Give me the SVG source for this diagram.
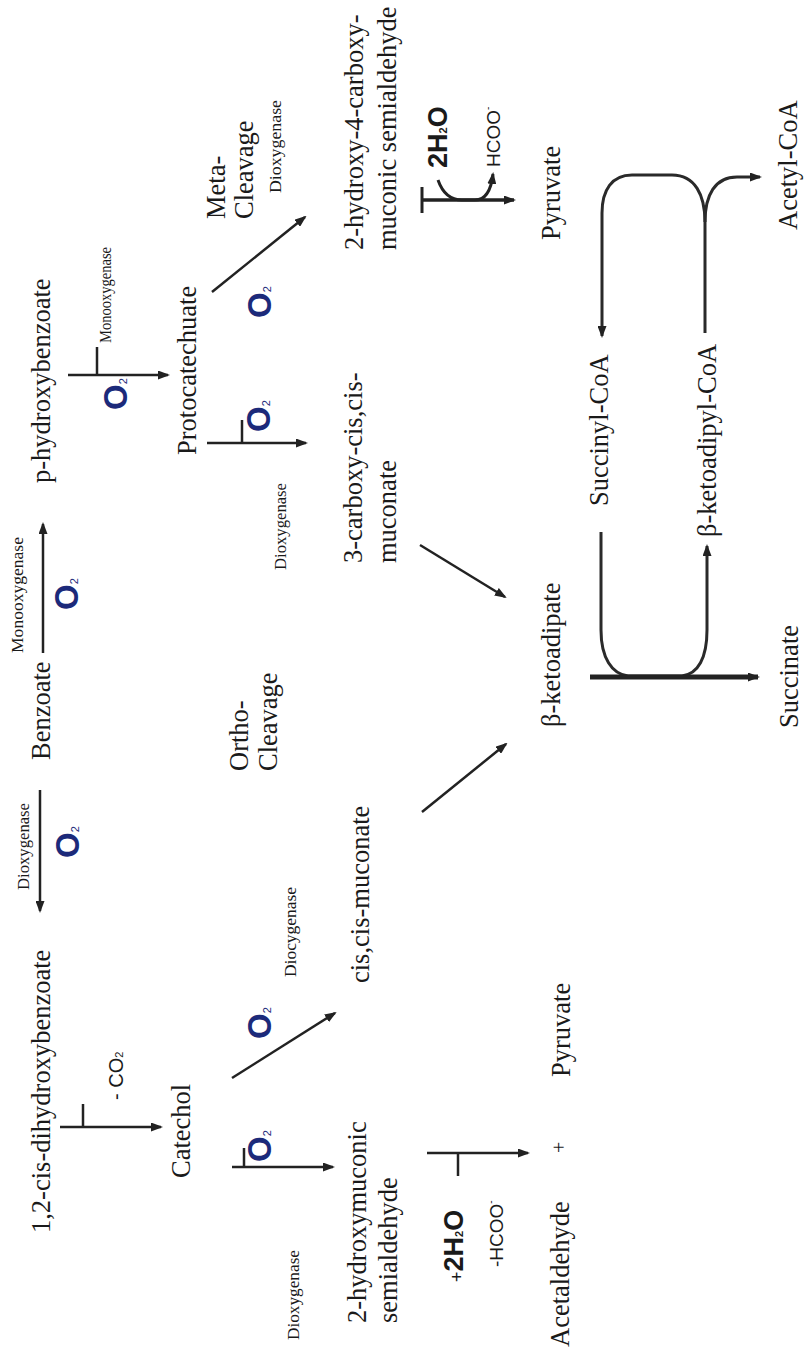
<svg xmlns="http://www.w3.org/2000/svg" width="804" height="1350" viewBox="0 0 804 1350">
<defs>
<marker id="ah" markerUnits="userSpaceOnUse" viewBox="0 0 12 9" markerWidth="12" markerHeight="9" refX="10" refY="4.5" orient="auto"><path d="M0,0 L12,4.5 L0,9 z" fill="#222"/></marker>
<style>
.t{font-family:"Liberation Serif","Times New Roman",serif;font-size:26.5px;fill:#1a1a1a}
.e{font-family:"Liberation Serif","Times New Roman",serif;font-size:17px;fill:#1a1a1a}
.o{font-family:"Liberation Sans",Arial,sans-serif;font-size:33px;font-weight:bold;fill:#1c2a7a}
.o .sb{font-size:11px;font-weight:normal}
.s{font-family:"Liberation Sans",Arial,sans-serif;font-size:19px;fill:#1a1a1a}
.b{font-family:"Liberation Sans",Arial,sans-serif;font-size:27px;font-weight:bold;fill:#1a1a1a}
.ln{stroke:#222;stroke-width:2.5;fill:none}
.ar{stroke:#222;stroke-width:2.5;fill:none;marker-end:url(#ah)}
.lp{stroke:#2a2a2a;stroke-width:3;fill:none}
</style>
</defs>
<rect width="804" height="1350" fill="#fff"/>

<g id="connectors">
  <path class="ar" d="M40 790 L40 911"/>
  <path class="ar" d="M43 653 L43 524"/>
  <path class="ar" d="M68 375 L168 375"/><path class="ln" d="M97 375 L97 347"/>
  <path class="ar" d="M60 1127 L161 1127"/><path class="ln" d="M83 1127 L83 1104"/>
  <path class="ar" d="M207 443 L306 443"/><path class="ln" d="M242 443 L242 420"/>
  <path class="ar" d="M212 292 L305 217"/>
  <path class="ar" d="M232 1078 L335 1013"/>
  <path class="ar" d="M232 1167 L333 1167"/><path class="ln" d="M244 1167 L244 1148"/>
  <path class="ar" d="M427 1153 L528 1153"/><path class="ln" d="M458 1153 L458 1176"/>
  <path class="ar" d="M422 200 L514 200" style="stroke-width:3.5"/>
  <path class="ln" d="M422 187 L422 213" style="stroke-width:3"/>
  <path class="ar" d="M438 180 Q445 200 462 200 L475 200 Q490 200 493 174" style="stroke-width:3"/>
  <path class="ar" d="M420 545 L505 597"/>
  <path class="ar" d="M422 812 L506 744"/>
  <path class="lp" d="M705 333 L705 222 C705 195 695 175 672 175 L632 175 C612 175 602 190 602 213 L602 336" style="marker-end:url(#ah)"/>
  <path class="lp" d="M705 222 C705 195 715 177 737 177 L760 177" style="marker-end:url(#ah)"/>
  <path class="lp" d="M601 532 L601 630 C601 658 612 674 628 676 L682 676 C698 674 707 658 707 630 L707 546" style="marker-end:url(#ah)"/>
  <path class="ar" d="M590 677 L758 677" style="stroke-width:5"/>
</g>

<g id="n-dihydroxybenzoate"><text class="t" transform="translate(50,1233) rotate(-90)">1,2-cis-dihydroxybenzoate</text></g>
<g id="n-benzoate"><text class="t" transform="translate(50,760) rotate(-90)">Benzoate</text></g>
<g id="n-phydroxybenzoate"><text class="t" transform="translate(50,483) rotate(-90)">p-hydroxybenzoate</text></g>
<g id="n-catechol"><text class="t" transform="translate(190,1178) rotate(-90)">Catechol</text></g>
<g id="n-protocatechuate"><text class="t" transform="translate(196,455) rotate(-90)">Protocatechuate</text></g>
<g id="n-meta"><text class="t" transform="translate(225,219) rotate(-90)">Meta-</text><text class="t" transform="translate(253,219) rotate(-90)">Cleavage</text></g>
<g id="n-ortho"><text class="t" transform="translate(248,771) rotate(-90)">Ortho-</text><text class="t" transform="translate(277,771) rotate(-90)">Cleavage</text></g>
<g id="n-hms"><text class="t" transform="translate(366,1323) rotate(-90)">2-hydroxymuconic</text><text class="t" transform="translate(397,1323) rotate(-90)">semialdehyde</text></g>
<g id="n-ccmuconate"><text class="t" transform="translate(369,983) rotate(-90)">cis,cis-muconate</text></g>
<g id="n-carboxymuconate"><text class="t" transform="translate(362,563) rotate(-90)">3-carboxy-cis,cis-</text><text class="t" transform="translate(396,563) rotate(-90)">muconate</text></g>
<g id="n-hcms"><text class="t" transform="translate(363,250) rotate(-90)">2-hydroxy-4-carboxy-</text><text class="t" transform="translate(396,250) rotate(-90)">muconic semialdehyde</text></g>
<g id="n-ketoadipate"><text class="t" transform="translate(560,727) rotate(-90)">β-ketoadipate</text></g>
<g id="n-pyruvate-top"><text class="t" transform="translate(560,240) rotate(-90)">Pyruvate</text></g>
<g id="n-products"><text class="t" transform="translate(569,1347) rotate(-90)">Acetaldehyde</text><text class="t" style="font-size:20px" transform="translate(566,1153) rotate(-90)">+</text><text class="t" transform="translate(570,1077) rotate(-90)">Pyruvate</text></g>
<g id="n-succinylcoa"><text class="t" transform="translate(608,506) rotate(-90)">Succinyl-CoA</text></g>
<g id="n-ketoadipylcoa"><text class="t" transform="translate(716,537) rotate(-90)">β-ketoadipyl-CoA</text></g>
<g id="n-succinate"><text class="t" transform="translate(798,728) rotate(-90)">Succinate</text></g>
<g id="n-acetylcoa"><text class="t" transform="translate(797,230) rotate(-90)">Acetyl-CoA</text></g>

<g id="enzymes">
  <text class="e" transform="translate(29,890) rotate(-90)" textLength="87" lengthAdjust="spacingAndGlyphs">Dioxygenase</text>
  <text class="e" transform="translate(23,653) rotate(-90)" textLength="116" lengthAdjust="spacingAndGlyphs">Monooxygenase</text>
  <text class="e" transform="translate(111,343) rotate(-90)" textLength="96" lengthAdjust="spacingAndGlyphs">Monooxygenase</text>
  <text class="e" transform="translate(281,193) rotate(-90)" textLength="93" lengthAdjust="spacingAndGlyphs">Dioxygenase</text>
  <text class="e" transform="translate(286,570) rotate(-90)" textLength="87" lengthAdjust="spacingAndGlyphs">Dioxygenase</text>
  <text class="e" transform="translate(296,977) rotate(-90)" textLength="90" lengthAdjust="spacingAndGlyphs">Diocygenase</text>
  <text class="e" transform="translate(299,1340) rotate(-90)" textLength="90" lengthAdjust="spacingAndGlyphs">Dioxygenase</text>
</g>

<g id="oxygen">
  <text class="o" transform="translate(79,858) rotate(-90)">O<tspan class="sb">2</tspan></text>
  <text class="o" transform="translate(78,610) rotate(-90)">O<tspan class="sb">2</tspan></text>
  <text class="o" transform="translate(127,410) rotate(-90)">O<tspan class="sb">2</tspan></text>
  <text class="o" transform="translate(270,432) rotate(-90)">O<tspan class="sb">2</tspan></text>
  <text class="o" transform="translate(271,318) rotate(-90)">O<tspan class="sb">2</tspan></text>
  <text class="o" transform="translate(271,1039) rotate(-90)">O<tspan class="sb">2</tspan></text>
  <text class="o" transform="translate(271,1162) rotate(-90)">O<tspan class="sb">2</tspan></text>
</g>

<g id="cofactors">
  <text class="s" style="font-size:20px" transform="translate(123,1100) rotate(-90)">- CO<tspan style="font-size:11px">2</tspan></text>
  <text class="b" transform="translate(447,168) rotate(-90)">2H<tspan style="font-size:11px">2</tspan>O</text>
  <text class="s" transform="translate(500,167) rotate(-90)">HCOO<tspan style="font-size:10px" dy="-9">-</tspan></text>
  <text class="b" transform="translate(463,1282) rotate(-90)"><tspan style="font-size:18px;font-weight:normal">+</tspan>2H<tspan style="font-size:11px">2</tspan>O</text>
  <text class="s" transform="translate(503,1267) rotate(-90)">-HCOO<tspan style="font-size:10px" dy="-9">-</tspan></text>
</g>
</svg>
